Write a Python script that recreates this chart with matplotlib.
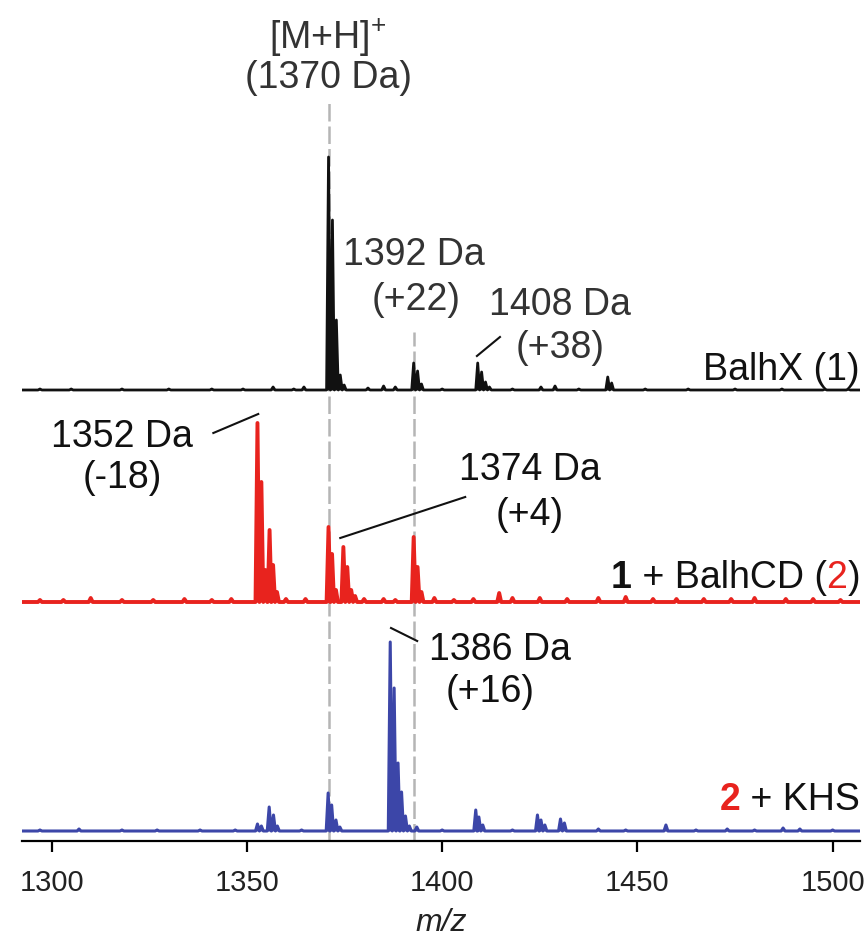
import matplotlib
matplotlib.use("Agg")
import matplotlib.pyplot as plt
import matplotlib.transforms as mtransforms
import numpy as np

plt.rcParams['font.family'] = ['Liberation Sans', 'DejaVu Sans']
plt.rcParams['mathtext.fontset'] = 'custom'
plt.rcParams['mathtext.rm'] = 'Liberation Sans'
plt.rcParams['mathtext.it'] = 'Liberation Sans:italic'

# peak lists (m/z, relative intensity)
black_mz = [1297, 1305, 1318, 1330, 1341, 1349, 1356.7, 1362, 1364.6, 1370.9, 1371.9, 1372.9,
            1373.9, 1374.9, 1381, 1385.0, 1388.0, 1392.7, 1393.7, 1394.7, 1400, 1409.1,
            1410.1, 1411.1, 1412.1, 1418, 1425.3, 1428.9, 1435, 1442.4, 1443.4, 1452,
            1463, 1475, 1487, 1498, 1504]
black_h = [1, 1, 1, 1, 1, 1, 3, 1, 3, 233, 170, 70,
           15, 5, 2, 4, 3, 27, 19, 6, 1, 27,
           18, 8, 3, 1, 3, 4, 1, 13, 7, 1,
           1, 1, 1, 1, 1]

red_mz = [1297, 1303, 1310.0, 1318, 1326, 1334, 1341, 1346, 1352.7, 1353.7, 1354.7, 1355.8,
          1356.7, 1357.7, 1360, 1365, 1370.9, 1371.8, 1372.8, 1374.7, 1375.7, 1376.7,
          1377.7, 1380, 1385, 1388, 1392.7, 1393.7, 1394.7, 1398, 1403, 1408, 1414.6,
          1418, 1425, 1432, 1440, 1447, 1454, 1460, 1467, 1474, 1480, 1488, 1495, 1502]
red_h = [2, 2, 4, 2, 2, 3, 2, 3, 179, 120, 32, 72,
         37, 10, 3, 3, 75, 48, 12, 55, 35, 12,
         6, 3, 3, 2, 65, 35, 10, 4, 2, 3, 9,
         4, 4, 3, 4, 5, 3, 3, 3, 3, 4, 3, 3, 2]

blue_mz = [1297, 1307, 1318, 1327, 1338, 1347, 1352.7, 1353.7, 1355.7, 1356.8, 1357.8, 1364,
           1370.8, 1371.7, 1372.8, 1373.8, 1386.7, 1387.7, 1388.7, 1389.6, 1390.6, 1391.6,
           1393.5, 1400, 1408.6, 1409.4, 1410.4, 1418, 1424.4, 1425.3, 1426.3, 1430.3,
           1431.3, 1440, 1447, 1457.3, 1465, 1473, 1480, 1487.3, 1491.6, 1500]
blue_h = [1, 2, 1, 1, 1, 1, 7, 5, 24, 16, 5, 1,
          38, 26, 11, 4, 189, 143, 68, 39, 15, 5,
          4, 1, 21, 14, 6, 1, 16, 11, 6, 12,
          8, 2, 1, 6, 1, 2, 1, 3, 2, 1]

ref_lines = [1370.9, 1392.7]
ticks = [1300, 1350, 1400, 1450, 1500]

c_black = '#111111'
c_red = '#e8231e'
c_blue = '#3c46a8'

fig = plt.figure(figsize=(8.65, 9.42), dpi=100)
ax = fig.add_axes([22 / 865, 101 / 942, 838 / 865, 841 / 942])
xmin, xmax = 1292.4, 1507.0


def profile(mz, h, hw=0.5):
    xs, ys = [xmin], [0]
    for m, v in sorted(zip(mz, h)):
        xs += [m - hw, m, m + hw]
        ys += [0, v, 0]
    xs.append(xmax)
    ys.append(0)
    return np.array(xs), np.array(ys)


traces = [(black_mz, black_h, c_black, 441, 2.0),
          (red_mz, red_h, c_red, 229, 2.8),
          (blue_mz, blue_h, c_blue, 0, 2.2)]
for mz, h, col, off, lw in traces:
    x, y = profile(mz, h)
    ax.fill_between(x, off, off + y, color=col, lw=0)
    ax.plot(x, off + y, color=col, lw=lw)

# dashed reference lines
ax.plot([ref_lines[0]] * 2, [-10, 728], color='#b5b5b5', lw=1.8, dashes=(7, 2), zorder=0)
ax.plot([ref_lines[1]] * 2, [-10, 499], color='#b5b5b5', lw=1.8, dashes=(7, 2), zorder=0)

fs = 27
gray = '#333333'
ax.text(1370.8, 793, '[M+H]$^{+}$', ha='center', va='center', fontsize=fs, color=gray)
ax.text(1370.8, 753, '(1370 Da)', ha='center', va='center', fontsize=fs, color=gray)
ax.text(1392.8, 576, '1392 Da', ha='center', va='center', fontsize=fs, color=gray)
ax.text(1393.3, 531, '(+22)', ha='center', va='center', fontsize=fs, color=gray)
ax.text(1430.2, 526, '1408 Da', ha='center', va='center', fontsize=fs, color=gray)
ax.text(1430.2, 483, '(+38)', ha='center', va='center', fontsize=fs, color=gray)
ax.plot([1408.9, 1414.8], [475, 494], color=c_black, lw=1.5)

ax.text(1318.0, 394, '1352 Da', ha='center', va='center', fontsize=fs, color=c_black)
ax.text(1318.0, 353, '(-18)', ha='center', va='center', fontsize=fs, color=c_black)
ax.plot([1341.4, 1352.9], [398, 417], color=c_black, lw=1.5)
ax.text(1422.5, 361, '1374 Da', ha='center', va='center', fontsize=fs, color=c_black)
ax.text(1422.5, 316, '(+4)', ha='center', va='center', fontsize=fs, color=c_black)
ax.plot([1373.9, 1405.9], [293, 334], color=c_black, lw=1.5)

ax.text(1414.8, 181, '1386 Da', ha='center', va='center', fontsize=fs, color=c_black)
ax.text(1412.2, 139, '(+16)', ha='center', va='center', fontsize=fs, color=c_black)
ax.plot([1386.9, 1393.6], [203, 190], color=c_black, lw=1.5)


def right_label(y, parts):
    r = fig.canvas.get_renderer()
    objs = []
    for s, col, w in parts:
        t = ax.text(1.0, y, s, color=col, fontweight=w, fontsize=fs, ha='left', va='center',
                    transform=mtransforms.blended_transform_factory(ax.transAxes, ax.transData))
        objs.append(t)
    widths = [t.get_window_extent(r).width for t in objs]
    pos = -sum(widths)
    for t, wd in zip(objs, widths):
        t.set_transform(mtransforms.offset_copy(t.get_transform(), fig=fig, x=pos, y=0, units='dots'))
        pos += wd


right_label(461, [('BalhX (1)', c_black, 'normal')])
right_label(253, [('1', c_black, 'bold'), (' + BalhCD (', c_black, 'normal'),
                  ('2', c_red, 'normal'), (')', c_black, 'normal')])
right_label(31, [('2', c_red, 'bold'), (' + KHS', c_black, 'normal')])

ax.set_xlim(xmin, xmax)
ax.set_ylim(-10, 831)
for s in ['top', 'right', 'left']:
    ax.spines[s].set_visible(False)
ax.spines['bottom'].set_linewidth(1.6)
ax.set_yticks([])
ax.set_xticks(ticks)
ax.tick_params(axis='x', direction='out', length=8, width=1.6, labelsize=21, pad=12,
               labelcolor='#222222')
ax.set_xlabel('m/z', fontsize=23, fontstyle='italic', labelpad=8, color='#222222')

fig.savefig('out.png', dpi=100)
